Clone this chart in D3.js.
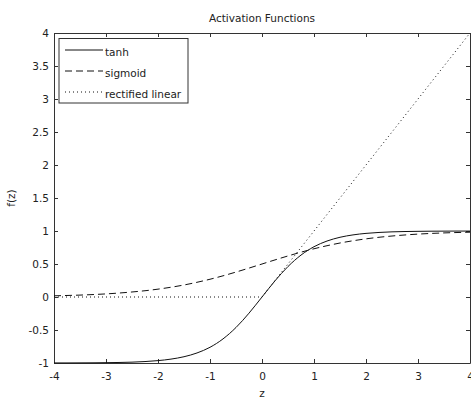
<!DOCTYPE html>
<html>
<head>
<meta charset="utf-8">
<script src="https://cdn.jsdelivr.net/npm/d3@7"></script>
<style>
  body { margin: 0; background: #fff; }
  text { font-family: "DejaVu Sans", sans-serif; fill: #222; }
</style>
</head>
<body>
<script>
// values, z step 0.25
var zValues = [-4, -3.75, -3.5, -3.25, -3, -2.75, -2.5, -2.25, -2, -1.75, -1.5, -1.25, -1, -0.75, -0.5, -0.25,
               0, 0.25, 0.5, 0.75, 1, 1.25, 1.5, 1.75, 2, 2.25, 2.5, 2.75, 3, 3.25, 3.5, 3.75, 4];
var tanhValues = [-0.999, -0.999, -0.998, -0.997, -0.995, -0.992, -0.987, -0.978, -0.964, -0.941, -0.905, -0.848,
                  -0.762, -0.635, -0.462, -0.245, 0, 0.245, 0.462, 0.635, 0.762, 0.848, 0.905, 0.941, 0.964,
                  0.978, 0.987, 0.992, 0.995, 0.997, 0.998, 0.999, 0.999];
var sigmoidValues = [0.018, 0.023, 0.029, 0.037, 0.047, 0.060, 0.076, 0.095, 0.119, 0.148, 0.182, 0.223, 0.269,
                     0.321, 0.378, 0.438, 0.5, 0.562, 0.622, 0.679, 0.731, 0.777, 0.818, 0.852, 0.881, 0.905,
                     0.924, 0.940, 0.953, 0.963, 0.971, 0.977, 0.982];
var reluZ = [-4, 0, 4];
var reluValues = [0, 0, 4];

var seriesNames = ["tanh", "sigmoid", "rectified linear"];
var xTicks = [-4, -3, -2, -1, 0, 1, 2, 3, 4];
var yTicks = [-1, -0.5, 0, 0.5, 1, 1.5, 2, 2.5, 3, 3.5, 4];

var margin = {top: 33, right: 1, bottom: 36, left: 54},
    width = 471 - margin.left - margin.right,
    height = 399 - margin.top - margin.bottom;

var svg = d3.select("body").append("svg")
    .attr("width", 471)
    .attr("height", 399)
    .append("g")
    .attr("transform", "translate(" + margin.left + "," + margin.top + ")");

var x = d3.scaleLinear().domain([-4, 4]).range([0, width]);
var y = d3.scaleLinear().domain([-1, 4]).range([height, 0]);

var fmt = function(d) { return String(d); };
var fontSize = "10.5px";

var styles = [
  {dash: null, curve: d3.curveMonotoneX},
  {dash: "7,4", curve: d3.curveMonotoneX},
  {dash: "1,3", curve: d3.curveLinear}
];

var series = [
  d3.zip(zValues, tanhValues),
  d3.zip(zValues, sigmoidValues),
  d3.zip(reluZ, reluValues)
];

// box with ticks on all sides
svg.append("g")
    .attr("transform", "translate(0," + height + ")")
    .call(d3.axisBottom(x).tickValues(xTicks).tickSizeInner(-4).tickSizeOuter(0).tickPadding(10).tickFormat(fmt));
svg.append("g")
    .call(d3.axisTop(x).tickValues(xTicks).tickSizeInner(-4).tickSizeOuter(0).tickFormat(""));
svg.append("g")
    .call(d3.axisLeft(y).tickValues(yTicks).tickSizeInner(-4).tickSizeOuter(0).tickPadding(5).tickFormat(fmt));
svg.append("g")
    .attr("transform", "translate(" + width + ",0)")
    .call(d3.axisRight(y).tickValues(yTicks).tickSizeInner(-4).tickSizeOuter(0).tickFormat(""));

svg.selectAll(".domain").attr("stroke", "#333");
svg.selectAll(".tick line").attr("stroke", "#333");
svg.selectAll(".tick text").style("font-size", fontSize).style("font-family", "DejaVu Sans").attr("fill", "#222");

svg.selectAll(".curve")
    .data(series)
    .enter().append("path")
    .attr("class", "curve")
    .attr("d", function(d, i) {
      return d3.line()
          .x(function(p) { return x(p[0]); })
          .y(function(p) { return y(p[1]); })
          .curve(styles[i].curve)(d);
    })
    .attr("fill", "none")
    .attr("stroke", "#111")
    .attr("stroke-width", 1)
    .attr("stroke-dasharray", function(d, i) { return styles[i].dash; });

// legend
var legend = svg.append("g").attr("transform", "translate(5,5.5)");
legend.append("rect")
    .attr("width", 129).attr("height", 64.5)
    .attr("fill", "#fff").attr("stroke", "#333");
seriesNames.forEach(function(name, i) {
  var yy = 11.5 + i * 21;
  legend.append("line")
      .attr("x1", 6).attr("x2", 44).attr("y1", yy).attr("y2", yy)
      .attr("stroke", "#111")
      .attr("stroke-dasharray", styles[i].dash);
  legend.append("text")
      .attr("x", 46).attr("y", yy + 5.5)
      .style("font-size", fontSize)
      .text(name);
});

svg.append("text")
    .attr("x", width / 2).attr("y", -11)
    .style("text-anchor", "middle")
    .style("font-size", fontSize)
    .text("Activation Functions");

svg.append("text")
    .attr("x", width / 2).attr("y", height + 34)
    .style("text-anchor", "middle")
    .style("font-size", fontSize)
    .text("z");

svg.append("text")
    .attr("transform", "rotate(-90)")
    .attr("x", -height / 2).attr("y", -39)
    .style("text-anchor", "middle")
    .style("font-size", fontSize)
    .text("f(z)");
</script>
</body>
</html>
